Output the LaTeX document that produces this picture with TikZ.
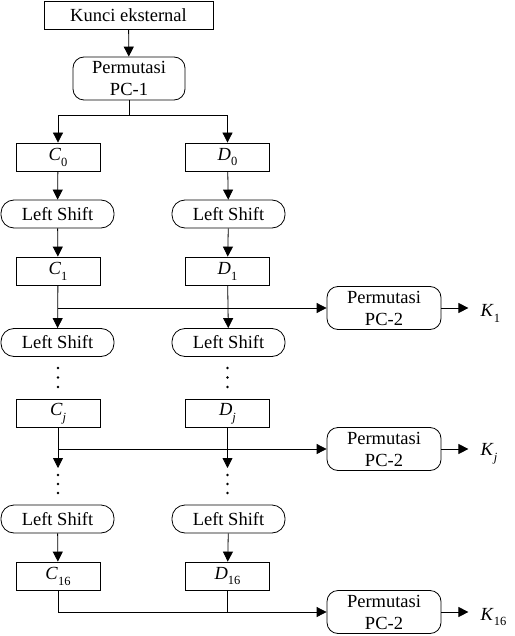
\documentclass[tikz,border=0pt]{standalone}
\usepackage{fontspec}
\setmainfont{Liberation Serif}
\usetikzlibrary{arrows.meta}
\newcommand{\idx}[2]{\textit{#1}\raisebox{-0.7ex}{\fontsize{12.5}{12.5}\selectfont #2}}
\begin{document}
\begin{tikzpicture}[x=1pt,y=-1pt,line width=0.8pt,
    font=\fontsize{18.5}{22}\selectfont,
    arr/.style={-{Triangle[length=10pt,width=10pt]}},
    box/.style={draw,inner sep=0pt,minimum width=84pt,minimum height=28pt},
    shiftbox/.style={draw,inner sep=0pt,rounded corners=13pt,minimum width=113pt,minimum height=28pt},
    permbox/.style={draw,inner sep=0pt,rounded corners=11pt,minimum width=114pt,minimum height=43pt,align=center}]
    \useasboundingbox (0,0) rectangle (514,636);
    % top
    \node[box,minimum width=169pt] (key) at (128.5,15) {Kunci eksternal};
    \node[permbox,minimum width=112pt] (pc1) at (129,78.5) {Permutasi\\PC-1};
    \draw[arr] (key) -- (pc1);
    \draw (pc1.south) -- ++(0,15) coordinate (split);
    % left column C, right column D
    \node[box] (c0) at (58,157) {\idx{C}{0}};
    \node[box] (d0) at (227.5,157) {\idx{D}{0}};
    \node[shiftbox] (lsc1) at (57.5,214) {Left Shift};
    \node[shiftbox] (lsd1) at (228.5,214) {Left Shift};
    \node[box] (c1) at (58,271) {\idx{C}{1}};
    \node[box] (d1) at (227.5,271) {\idx{D}{1}};
    \node[shiftbox] (lsc2) at (57.5,342.5) {Left Shift};
    \node[shiftbox] (lsd2) at (228.5,342.5) {Left Shift};
    \node[box] (cj) at (58,413.5) {\idx{C}{\textit{j}}};
    \node[box] (dj) at (227.5,413.5) {\idx{D}{\textit{j}}};
    \node[shiftbox] (lsc3) at (57.5,519) {Left Shift};
    \node[shiftbox] (lsd3) at (228.5,519) {Left Shift};
    \node[box] (c16) at (58,576) {\idx{C}{16}};
    \node[box] (d16) at (227.5,576) {\idx{D}{16}};
    % PC-2 and keys
    \node[permbox] (pc2a) at (384,308) {Permutasi\\PC-2};
    \node[permbox] (pc2b) at (384,449) {Permutasi\\PC-2};
    \node[permbox] (pc2c) at (384,612) {Permutasi\\PC-2};
    \node[anchor=west] (k1) at (477,313) {\idx{K}{1}};
    \node[anchor=west] (kj) at (477,454) {\idx{K}{\textit{j}}};
    \node[anchor=west] (k16) at (477,617) {\idx{K}{16}};
    % dots
    \foreach \xx in {58,227.5}
      \foreach \yy in {368,377.5,387,475,484,493}
        \fill (\xx,\yy) circle (1.4);
    \coordinate (dcj) at (58,468);
    \coordinate (ddj) at (227.5,468);
    % connectors
    \draw[arr] (split) -| (c0.north);
    \draw[arr] (split) -| (d0.north);
    \draw[arr] (c0) -- (lsc1);
    \draw[arr] (d0) -- (lsd1);
    \draw[arr] (lsc1) -- (c1);
    \draw[arr] (lsd1) -- (d1);
    \draw[arr] (c1) -- (lsc2);
    \draw[arr] (d1) -- (lsd2);
    \draw[arr] (c1.south |- pc2a) -- (pc2a.west);
    \draw[arr] (cj.south) -- (dcj);
    \draw[arr] (dj.south) -- (ddj);
    \draw[arr] (cj.south |- pc2b) -- (pc2b.west);
    \draw[arr] (lsc3) -- (c16);
    \draw[arr] (lsd3) -- (d16);
    \draw[arr] (c16.south) |- (pc2c.west);
    \draw (d16.south) -- (d16.south |- pc2c);
    \draw[arr] (pc2a.east) -- ++(27,0);
    \draw[arr] (pc2b.east) -- ++(27,0);
    \draw[arr] (pc2c.east) -- ++(27,0);
\end{tikzpicture}
\end{document}
